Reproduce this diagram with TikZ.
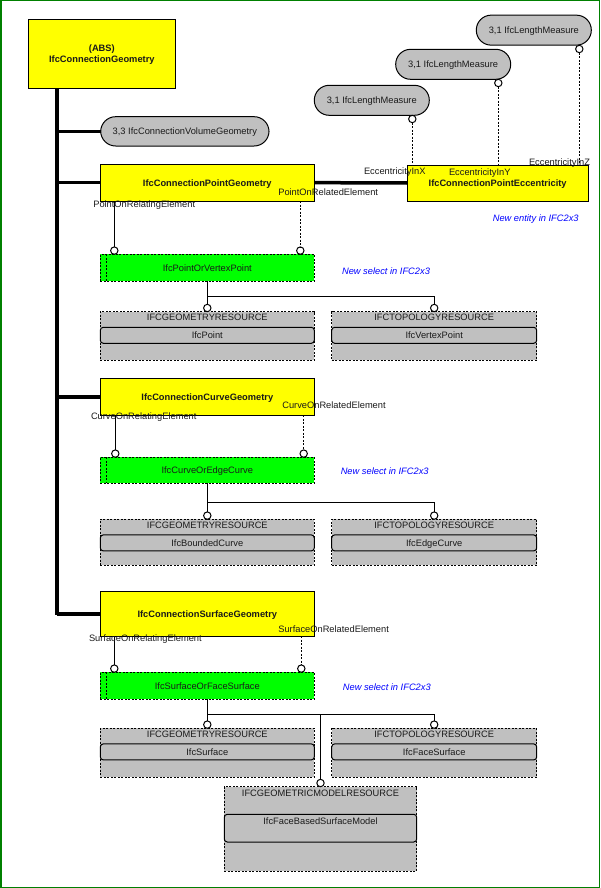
\documentclass[tikz,border=0pt]{standalone}
\usepackage{fontspec}
\setmainfont{Liberation Sans}
\definecolor{entyellow}{HTML}{FFFF00}
\definecolor{selgreen}{HTML}{00FF00}
\definecolor{pkggray}{HTML}{C0C0C0}
\definecolor{noteblue}{HTML}{0000FF}
\definecolor{framegreen}{HTML}{008000}
\definecolor{txt}{HTML}{1A1A1A}
\newcommand\pkgnode[7]{%
  \node[pkgbox, minimum width=#4pt, minimum height=#5pt] (#1) at (#2,#3) {};
  \node[pkghead] (#1h) at ([yshift=-5.8pt]#1.north) {#6};
  \node[pkgent, minimum width=#4pt, minimum height=16pt, anchor=north] (#1e) at ([yshift=-15.6pt]#1.north) {#7};
}
\begin{document}
\begin{tikzpicture}[x=1pt,y=-1pt,
  every node/.style={font=\fontsize{9.3}{11.7}\selectfont, text=txt, inner sep=0pt, outer sep=0pt},
  entbase/.style={draw=black, fill=entyellow, line width=1pt, font=\fontsize{9.3}{11.7}\selectfont\bfseries},
  ent/.style={entbase, minimum width=214pt, text height=6.7pt, text depth=0pt},
  pill/.style={draw=black, fill=pkggray, line width=1pt, rounded corners=14.9pt, text height=6.7pt, text depth=0pt},
  sel/.style={draw=black, fill=selgreen, line width=1pt, dash pattern=on 2pt off 1.5pt, minimum width=214pt, text height=6.7pt, text depth=0pt},
  pkgbox/.style={draw=black, fill=pkggray, line width=1pt, dash pattern=on 2pt off 1.5pt, anchor=north west},
  pkghead/.style={text height=6.7pt, text depth=0pt},
  pkgent/.style={draw=black, fill=pkggray, line width=1pt, rounded corners=3pt, text height=6.7pt, text depth=0pt},
  circ/.style={circle, draw=black, fill=white, line width=1pt, minimum size=7.4pt},
  inh/.style={line width=3.5pt},
  rel/.style={line width=1pt},
  opt/.style={line width=1pt, dash pattern=on 2pt off 1.5pt},
  role/.style={anchor=base west},
  note/.style={text=noteblue, font=\fontsize{9.3}{11.7}\selectfont\itshape, text height=6.7pt, text depth=0pt}
]
\useasboundingbox (0,0) rectangle (600,888);
\draw[framegreen, line width=1.5pt] (0.75,0.75) rectangle (599.25,887.25);

% top entity and trunk
\node[entbase, align=center, minimum width=147.7pt, minimum height=69pt] (abs) at (101.85,54.5) {(ABS)\\IfcConnectionGeometry};
\node[pill, minimum width=168.3pt, minimum height=29.3pt] (vol) at (184.85,131.35) {3,3 IfcConnectionVolumeGeometry};

% point geometry
\node[ent, minimum height=36.7pt] (pg) at (207.3,182.65) {IfcConnectionPointGeometry};
\node[entbase, text height=6.7pt, text depth=0pt, minimum width=181.3pt, minimum height=36pt] (ecc) at (497.65,183) {IfcConnectionPointEccentricity};
\node[pill, minimum width=115pt, minimum height=30pt] (lm1) at (371.8,100.3) {3,1 IfcLengthMeasure};
\node[pill, minimum width=115pt, minimum height=30pt] (lm2) at (453.2,64.3) {3,1 IfcLengthMeasure};
\node[pill, minimum width=115pt, minimum height=30pt] (lm3) at (533.8,30.15) {3,1 IfcLengthMeasure};
\node[circ, anchor=north] (cx) at (412.3,115.3) {};
\node[circ, anchor=north] (cy) at (498.3,79.3) {};
\node[circ, anchor=north] (cz) at (579.3,45.3) {};
\draw[opt] (cx) -- (cx |- ecc.north);
\draw[opt] (cy) -- (cy |- ecc.north);
\draw[opt] (cz) -- (cz |- ecc.north);
\node[role] (rx) at (364,174.4) {EccentricityInX};
\node[role] (ry) at (449,175.7) {EccentricityInY};
\node[role] (rz) at (529,165) {EccentricityInZ};
\node[note] (n0) at (535.7,217.7) {New entity in IFC2x3};

\node[sel, minimum height=26.7pt] (pv) at (207.3,267.65) {IfcPointOrVertexPoint};
\draw[opt] ([xshift=6pt]pv.north west) -- ([xshift=6pt]pv.south west);
\node[circ, anchor=south] (pa) at (114.3,254.3) {};
\node[circ, anchor=south] (pb) at (300.3,254.3) {};
\draw[rel] (pa |- pg.south) -- (pa);
\draw[opt] (pb |- pg.south) -- (pb);
\node[role] (r1) at (93.3,207.7) {PointOnRelatingElement};
\node[role] (r2) at (278.3,195) {PointOnRelatedElement};
\node[note] (n1) at (386,271) {New select in IFC2x3};
\pkgnode{gp1}{100.3}{311.7}{214}{48.6}{IFCGEOMETRYRESOURCE}{IfcPoint}
\pkgnode{tp1}{331.7}{311.7}{205}{48.6}{IFCTOPOLOGYRESOURCE}{IfcVertexPoint}
\node[circ, anchor=south] (pc) at (gp1.north) {};
\node[circ, anchor=south] (pd) at (tp1.north) {};
\coordinate (j1) at (207.3,296);
\draw[rel] (pv.south) -- (pc);
\draw[rel] (j1) -| (pd);

% curve geometry
\node[ent, minimum height=37pt] (cg) at (207.3,396.8) {IfcConnectionCurveGeometry};
\node[sel, minimum height=26pt] (ce) at (207.3,470.3) {IfcCurveOrEdgeCurve};
\draw[opt] ([xshift=6pt]ce.north west) -- ([xshift=6pt]ce.south west);
\node[circ, anchor=south] (ca) at (115.3,457.3) {};
\node[circ, anchor=south] (cb) at (303.7,457.3) {};
\draw[rel] (ca |- cg.south) -- (ca);
\draw[opt] (cb |- cg.south) -- (cb);
\node[role] (r3) at (91,419.05) {CurveOnRelatingElement};
\node[role] (r4) at (282.3,408.65) {CurveOnRelatedElement};
\node[note] (n2) at (384.7,471.3) {New select in IFC2x3};
\pkgnode{gp2}{100.3}{519.3}{214}{45.9}{IFCGEOMETRYRESOURCE}{IfcBoundedCurve}
\pkgnode{tp2}{331.7}{519.3}{205}{45.9}{IFCTOPOLOGYRESOURCE}{IfcEdgeCurve}
\node[circ, anchor=south] (cc) at (gp2.north) {};
\node[circ, anchor=south] (cd) at (tp2.north) {};
\coordinate (j2) at (207.3,502.3);
\draw[rel] (ce.south) -- (cc);
\draw[rel] (j2) -| (cd);

% surface geometry
\node[ent, minimum height=44.3pt] (sg) at (207.3,613.85) {IfcConnectionSurfaceGeometry};
\node[sel, minimum height=26.7pt] (sf) at (207.3,685.65) {IfcSurfaceOrFaceSurface};
\draw[opt] ([xshift=6pt]sf.north west) -- ([xshift=6pt]sf.south west);
\node[circ, anchor=south] (sa) at (114.3,672.3) {};
\node[circ, anchor=south] (sb) at (301.3,672.3) {};
\draw[rel] (sa |- sg.south) -- (sa);
\draw[opt] (sb |- sg.south) -- (sb);
\node[role] (r5) at (89,641.65) {SurfaceOnRelatingElement};
\node[role] (r6) at (278.3,632.35) {SurfaceOnRelatedElement};
\node[note] (n3) at (386.8,686.7) {New select in IFC2x3};
\pkgnode{gp3}{100.3}{728.3}{214}{48.7}{IFCGEOMETRYRESOURCE}{IfcSurface}
\pkgnode{tp3}{331.7}{728.3}{205}{48.7}{IFCTOPOLOGYRESOURCE}{IfcFaceSurface}
\node[pkgbox, minimum width=192.4pt, minimum height=84.3pt] (gm) at (224.3,786.7) {};
\node[pkghead] (gmh) at ([yshift=-6pt]gm.north) {IFCGEOMETRICMODELRESOURCE};
\node[pkgent, minimum width=192.4pt, minimum height=27.7pt, anchor=north] (gme) at ([yshift=-27.6pt]gm.north) {};
\node[pkghead] (gmt) at ([yshift=-6.4pt]gme.north) {IfcFaceBasedSurfaceModel};
\node[circ, anchor=south] (sc) at (gp3.north) {};
\node[circ, anchor=south] (sd) at (tp3.north) {};
\node[circ, anchor=south] (se) at (gm.north) {};
\coordinate (j3) at (207.3,714.7);
\draw[rel] (sf.south) -- (sc);
\draw[rel] (j3) -| (sd);
\draw[rel] (j3 -| se) -- (se);

% trunk (inheritance)
\coordinate (tb) at (57,615.2);
\draw[inh] (abs.south -| tb) -- (tb);
\draw[inh] (tb |- vol.west) -- (vol.west);
\draw[inh] (tb |- pg.west) -- (pg.west);
\draw[inh] (pg.east) -- (ecc.west);
\draw[inh] (tb |- cg.west) -- (cg.west);
\draw[inh] (tb |- sg.west) -- (sg.west);
\end{tikzpicture}
\end{document}
